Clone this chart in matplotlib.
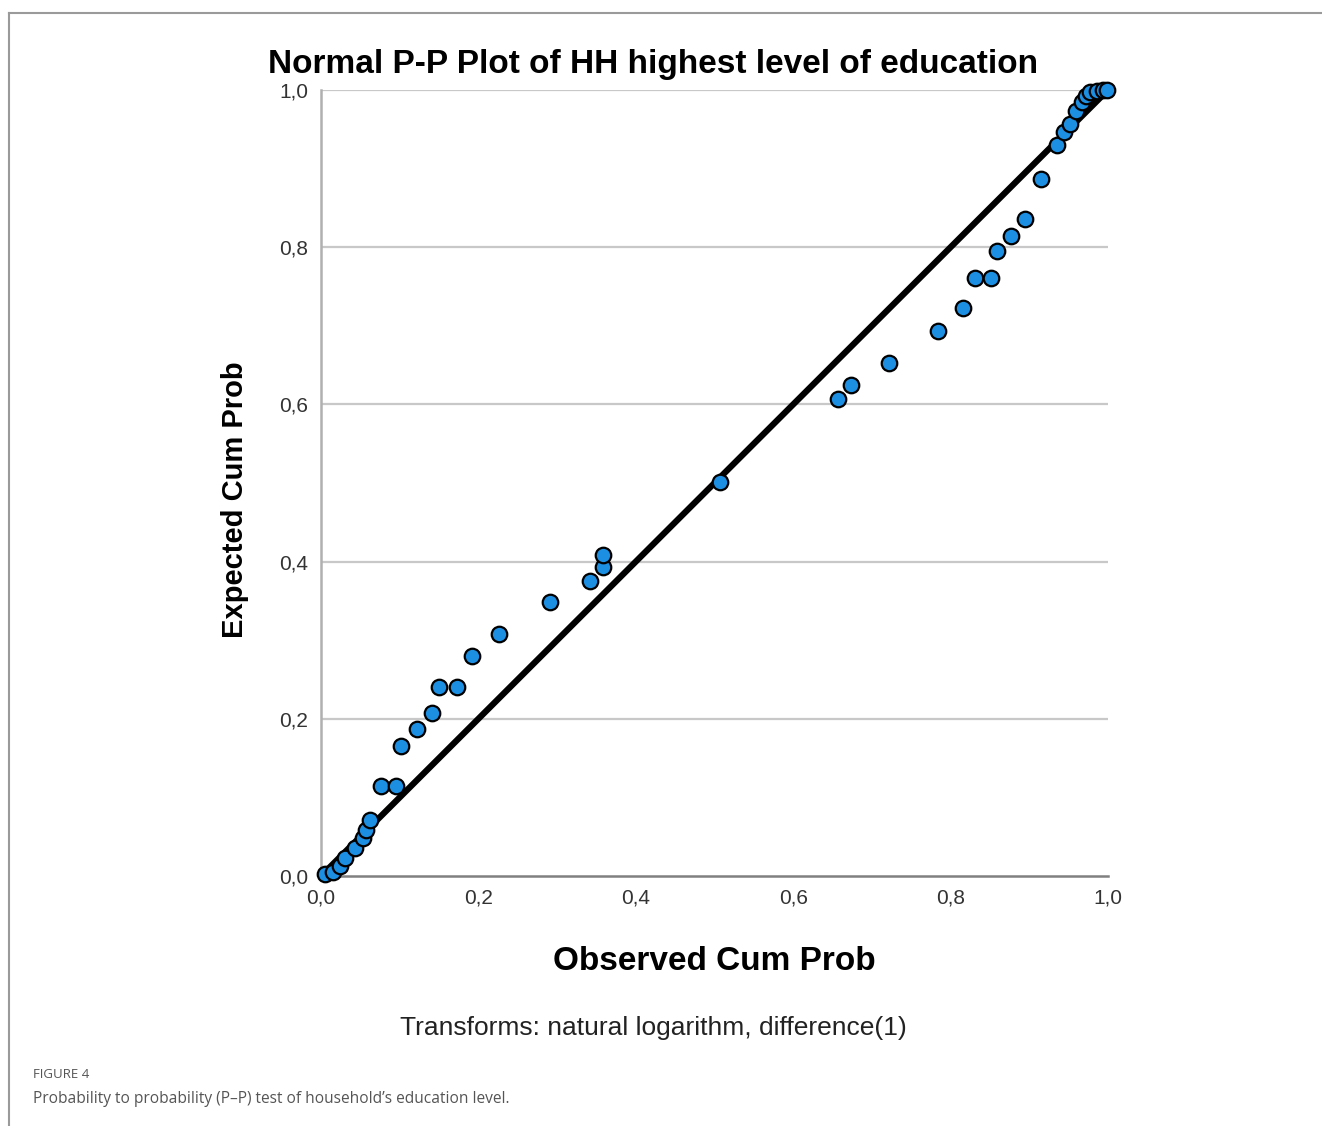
import matplotlib
matplotlib.use("Agg")
import matplotlib.pyplot as plt
from matplotlib.lines import Line2D

# observed vs expected cumulative probabilities
observed = [0.005, 0.015, 0.024, 0.030, 0.043, 0.053, 0.057, 0.062, 0.076, 0.095,
            0.102, 0.122, 0.141, 0.150, 0.173, 0.192, 0.226, 0.291, 0.342, 0.358,
            0.358, 0.507, 0.657, 0.673, 0.722, 0.784, 0.816, 0.831, 0.851, 0.859,
            0.877, 0.895, 0.915, 0.935, 0.944, 0.952, 0.959, 0.967, 0.972, 0.977,
            0.986, 0.994, 0.999]
expected = [0.002, 0.005, 0.013, 0.023, 0.036, 0.048, 0.059, 0.071, 0.115, 0.115,
            0.165, 0.187, 0.207, 0.240, 0.240, 0.280, 0.308, 0.349, 0.375, 0.393,
            0.408, 0.501, 0.607, 0.625, 0.653, 0.693, 0.723, 0.761, 0.761, 0.795,
            0.814, 0.836, 0.887, 0.930, 0.947, 0.957, 0.973, 0.985, 0.992, 0.997,
            0.999, 1.000, 1.000]
ticks = [0.0, 0.2, 0.4, 0.6, 0.8, 1.0]
tick_labels = ["0,0", "0,2", "0,4", "0,6", "0,8", "1,0"]

plt.rcParams['font.family'] = ['Liberation Sans', 'DejaVu Sans']

fig = plt.figure(figsize=(13.22, 11.26), dpi=100)

# thin frame around the figure (top and left edge)
fig.add_artist(Line2D([9 / 1322, 1.0], [1 - 13 / 1126, 1 - 13 / 1126],
                      transform=fig.transFigure, color="#9a9a9a", lw=1.5))
fig.add_artist(Line2D([9 / 1322, 9 / 1322], [0.0, 1 - 13 / 1126],
                      transform=fig.transFigure, color="#9a9a9a", lw=1.5))

ax = fig.add_axes([321 / 1322, 1 - 876 / 1126, 787 / 1322, 786 / 1126])
ax.set_xlim(0, 1)
ax.set_ylim(0, 1)

for t in ticks[1:]:
    ax.axhline(t, color="#c8c8c8", lw=1.6, zorder=0)

ax.plot([0, 1], [0, 1], color="black", lw=4.5, zorder=2)
ax.scatter(observed, expected, s=125, color="#1c8fe3", edgecolors="black",
           linewidths=1.6, zorder=3, clip_on=False)

for side in ["top", "right"]:
    ax.spines[side].set_visible(False)
ax.spines["left"].set_color("#b0b0b0")
ax.spines["left"].set_linewidth(1.8)
ax.spines["bottom"].set_color("#808080")
ax.spines["bottom"].set_linewidth(1.8)

ax.set_xticks(ticks)
ax.set_xticklabels(tick_labels)
ax.set_yticks(ticks)
ax.set_yticklabels(tick_labels)
ax.tick_params(length=0, labelsize=15, labelcolor="#333333", pad=9)

fig.text(653 / 1322, 1 - 64 / 1126, "Normal P-P Plot of HH highest level of education",
         ha="center", va="center", fontsize=24, fontweight="bold")
ax.set_xlabel("Observed Cum Prob", fontsize=24, fontweight="bold", labelpad=28)
ax.set_ylabel("Expected Cum Prob", fontsize=21, fontweight="bold")
ax.yaxis.set_label_coords(-0.092, (876 - 500) / 786)

fig.text(653 / 1322, 1 - 1028 / 1126, "Transforms: natural logarithm, difference(1)",
         ha="center", va="center", fontsize=19, color="#222222")

fig.text(33 / 1322, 1 - 1074 / 1126, "FIGURE 4", ha="left", va="center",
         fontsize=9.5, color="#555555", family=["Open Sans", "DejaVu Sans"])
fig.text(33 / 1322, 1 - 1099 / 1126,
         "Probability to probability (P\u2013P) test of household\u2019s education level.",
         ha="left", va="center", fontsize=11.2, color="#555555",
         family=["Open Sans", "DejaVu Sans"])

fig.savefig("out.png", dpi=100)
